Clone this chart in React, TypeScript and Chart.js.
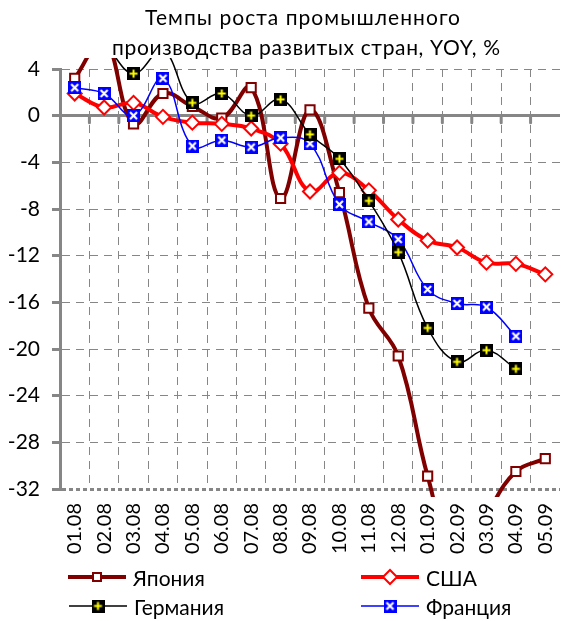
import React, { useEffect, useRef } from "react";
import { Chart, registerables } from "chart.js";

Chart.register(...registerables);

const categories = ["01.08", "02.08", "03.08", "04.08", "05.08", "06.08", "07.08", "08.08", "09.08", "10.08", "11.08", "12.08", "01.09", "02.09", "03.09", "04.09", "05.09"];
const japan = [3.2, 6.5, -0.7, 1.9, 0.8, -0.2, 2.4, -7.1, 0.5, -6.6, -16.5, -20.6, -30.9, -38.4, -34.2, -30.5, -29.4];
const usa = [1.9, 0.7, 1.1, -0.1, -0.6, -0.7, -1.1, -2.4, -6.5, -4.9, -6.4, -8.9, -10.7, -11.3, -12.6, -12.7, -13.6];
const germany = [6.3, 5.9, 3.6, 5.6, 1.1, 1.9, 0.0, 1.4, -1.6, -3.7, -7.3, -11.7, -18.2, -21.1, -20.1, -21.7, null];
const france = [2.4, 1.9, 0.0, 3.2, -2.6, -2.1, -2.7, -1.9, -2.4, -7.6, -9.1, -10.6, -14.9, -16.1, -16.4, -18.9, null];
const yMin = -32;
const yMax = 4;
const yStep = 4;
const titleLines = ["Темпы роста промышленного", "производства развитых стран, YOY, %"];
const seriesNames = ["Япония", "США", "Германия", "Франция"];

const FONT = "Lato, 'Open Sans', sans-serif";
const GRID = "#868686";

function makeMarker(bg: string, fg: string, kind: "plus" | "x"): HTMLCanvasElement {
  const c = document.createElement("canvas");
  c.width = 13;
  c.height = 13;
  const g = c.getContext("2d")!;
  g.fillStyle = bg;
  g.fillRect(0, 0, 13, 13);
  g.strokeStyle = fg;
  g.lineWidth = 2;
  g.beginPath();
  if (kind === "plus") {
    g.moveTo(6.5, 2.5); g.lineTo(6.5, 10.5);
    g.moveTo(2.5, 6.5); g.lineTo(10.5, 6.5);
  } else {
    g.lineWidth = 2.2;
    g.moveTo(3, 3); g.lineTo(10, 10);
    g.moveTo(10, 3); g.lineTo(3, 10);
  }
  g.stroke();
  return c;
}

export default function App() {
  const ref = useRef<HTMLCanvasElement | null>(null);

  useEffect(() => {
    const canvas = ref.current;
    if (!canvas) return;
    const deMarker = makeMarker("#000000", "#ffff00", "plus");
    const frMarker = makeMarker("#0000ff", "#ffffff", "x");
    const clip = { left: 10, top: 11, right: 5, bottom: 8 };

    const overlay = {
      id: "overlay",
      beforeDatasetsDraw(chart: any) {
        const ctx = chart.ctx;
        const xs = chart.scales.x;
        const y0 = chart.scales.y.getPixelForValue(0);
        ctx.save();
        ctx.strokeStyle = GRID;
        ctx.lineWidth = 3;
        ctx.lineCap = "round";
        for (let i = 1; i < categories.length; i++) {
          const px = (xs.getPixelForValue(i - 1) + xs.getPixelForValue(i)) / 2;
          ctx.beginPath();
          ctx.moveTo(px, y0);
          ctx.lineTo(px, y0 + 7);
          ctx.stroke();
        }
        ctx.restore();
      },
      afterDraw(chart: any) {
        const ctx = chart.ctx;
        ctx.save();
        // title
        ctx.fillStyle = "#000";
        ctx.font = `21px ${FONT}`;
        ctx.textAlign = "center";
        ctx.textBaseline = "alphabetic";
        const targets = [315, 388];
        const centers = [302.5, 306];
        const bases = [25, 55];
        titleLines.forEach((t, i) => {
          (ctx as any).letterSpacing = "0px";
          const w = ctx.measureText(t).width;
          const sp = (targets[i] - w) / (t.length - 1);
          (ctx as any).letterSpacing = `${sp}px`;
          ctx.fillText(t, centers[i] + sp / 2, bases[i]);
        });
        (ctx as any).letterSpacing = "0px";

        // legend
        const ds = chart.data.datasets;
        const items = [
          { i: 0, x: 68, y: 577 },
          { i: 1, x: 361, y: 577 },
          { i: 2, x: 69, y: 606 },
          { i: 3, x: 361, y: 606 },
        ];
        items.forEach(({ i, x, y }) => {
          const d = ds[i];
          ctx.strokeStyle = d.borderColor;
          ctx.lineWidth = d.borderWidth;
          ctx.lineCap = "butt";
          ctx.beginPath();
          ctx.moveTo(x, y);
          ctx.lineTo(x + 58, y);
          ctx.stroke();
          const cx = x + 29;
          if (i === 0) {
            ctx.fillStyle = "#fff";
            ctx.strokeStyle = d.borderColor;
            ctx.lineWidth = 2;
            ctx.fillRect(cx - 4, y - 4, 8, 8);
            ctx.strokeRect(cx - 4, y - 4, 8, 8);
          } else if (i === 1) {
            ctx.fillStyle = "#fff";
            ctx.strokeStyle = d.borderColor;
            ctx.lineWidth = 2;
            ctx.beginPath();
            ctx.moveTo(cx - 7, y);
            ctx.lineTo(cx, y - 7);
            ctx.lineTo(cx + 7, y);
            ctx.lineTo(cx, y + 7);
            ctx.closePath();
            ctx.fill();
            ctx.stroke();
          } else {
            const img = i === 2 ? deMarker : frMarker;
            ctx.drawImage(img, cx - 6.5, y - 6.5);
          }
          ctx.fillStyle = "#000";
          ctx.font = `21px ${FONT}`;
          ctx.textAlign = "left";
          ctx.textBaseline = "alphabetic";
          ctx.fillText(seriesNames[i], x + 65, y + 9);
        });
        ctx.restore();
      },
    };

    const chart = new Chart(canvas, {
      type: "line",
      data: {
        labels: categories,
        datasets: [
          {
            label: seriesNames[0],
            data: japan,
            borderColor: "#800000",
            backgroundColor: "#ffffff",
            borderWidth: 4,
            pointStyle: "rect",
            pointRadius: 6.5,
            pointBorderWidth: 2,
            pointBackgroundColor: "#ffffff",
            pointBorderColor: "#800000",
            tension: 0.4,
            order: 4,
            clip,
          },
          {
            label: seriesNames[1],
            data: usa,
            borderColor: "#ff0000",
            backgroundColor: "#ffffff",
            borderWidth: 4,
            pointStyle: "rectRot",
            pointRadius: 7,
            pointBorderWidth: 2,
            pointBackgroundColor: "#ffffff",
            pointBorderColor: "#ff0000",
            tension: 0.4,
            order: 3,
            clip,
          },
          {
            label: seriesNames[2],
            data: germany,
            borderColor: "#000000",
            backgroundColor: "#000000",
            borderWidth: 1.5,
            pointStyle: deMarker as any,
            pointRadius: 6,
            tension: 0.4,
            order: 1,
            clip,
          },
          {
            label: seriesNames[3],
            data: france,
            borderColor: "#0000ff",
            backgroundColor: "#0000ff",
            borderWidth: 1.5,
            pointStyle: frMarker as any,
            pointRadius: 6,
            tension: 0.4,
            order: 2,
            clip,
          },
        ],
      },
      options: {
        responsive: false,
        animation: false,
        events: [],
        layout: { padding: { top: 69, right: 1, bottom: 62, left: 0 } },
        plugins: {
          legend: { display: false },
          title: { display: false },
          tooltip: { enabled: false },
        },
        scales: {
          x: {
            type: "category",
            offset: true,
            grid: {
              offset: true,
              drawTicks: false,
              lineWidth: 1,
              color: (c: any) => (c.type === "tick" && c.index > 0 ? GRID : "rgba(0,0,0,0)"),
            },
            border: { display: false, dash: [8, 6] },
            ticks: {
              autoSkip: false,
              minRotation: 90,
              maxRotation: 90,
              padding: 14,
              color: "#000",
              font: { family: FONT, size: 20 },
            },
            afterFit: (s: any) => {
              s.height = 70;
              s.paddingLeft = 0;
              s.paddingRight = 0;
            },
          },
          y: {
            min: yMin,
            max: yMax,
            ticks: {
              stepSize: yStep,
              padding: 12,
              color: "#000",
              font: { family: FONT, size: 21 },
            },
            grid: {
              color: GRID,
              lineWidth: (c: any) => (c.tick && (c.tick.value === 0 || c.tick.value === yMin) ? 3 : 1),
              drawTicks: true,
              tickLength: 8,
              tickWidth: 3,
              tickColor: GRID,
              tickBorderDash: [],
            },
            border: {
              display: true,
              color: GRID,
              width: 3,
              dash: (c: any) => {
                if (!c.tick) return [];
                if (c.tick.value === 0) return [];
                if (c.tick.value === yMin) return [4, 3];
                return [8, 6];
              },
            },
            afterFit: (s: any) => {
              s.width = 60;
              s.paddingTop = 0;
              s.paddingBottom = 0;
            },
          },
        },
      },
      plugins: [overlay],
    });

    return () => chart.destroy();
  }, []);

  return (
    <div style={{ position: "absolute", left: 0, top: 0, width: 569, height: 621, background: "#fff" }}>
      <canvas ref={ref} width={569} height={621} style={{ display: "block" }} />
    </div>
  );
}
